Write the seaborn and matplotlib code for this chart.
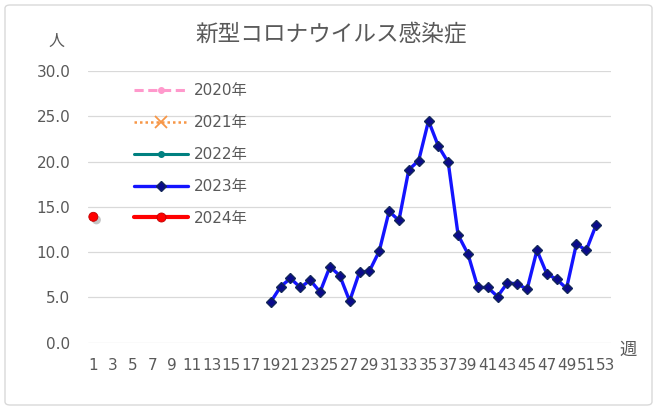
import matplotlib
matplotlib.use("Agg")
import matplotlib.pyplot as plt
import matplotlib.patheffects as pe
from matplotlib.patches import FancyBboxPatch
import seaborn as sns
import pandas as pd

# ---- data ----
title = "新型コロナウイルス感染症"
y_label = "人"
x_label = "週"
series_names = ["2020年", "2021年", "2022年", "2023年", "2024年"]

weeks_2023 = list(range(19, 53))
values_2023 = [4.5, 6.2, 7.1, 6.1, 6.9, 5.6, 8.4, 7.4, 4.6, 7.8,
               7.9, 10.1, 14.5, 13.5, 19.1, 20.1, 24.5, 21.7, 19.9, 11.9,
               9.8, 6.1, 6.1, 5.1, 6.6, 6.5, 5.9, 10.2, 7.6, 7.0,
               6.0, 10.9, 10.2, 13.0]
weeks_2024 = [1]
values_2024 = [13.9]
weeks_2020, values_2020 = [], []
weeks_2021, values_2021 = [], []
weeks_2022, values_2022 = [], []

x_ticks = list(range(1, 54, 2))
y_ticks = [0, 5, 10, 15, 20, 25, 30]

# ---- style ----
sns.set_theme(style="white")
plt.rcParams["font.family"] = ["DejaVu Sans", "Noto Sans CJK JP"]
TXT = "#595959"

W, H = 656, 408
fig = plt.figure(figsize=(W / 100, H / 100), dpi=100)
L, R, T, B = 88.4, 610.9, 71.0, 342.7
ax = fig.add_axes([L / W, 1 - B / H, (R - L) / W, (B - T) / H])

df23 = pd.DataFrame({"week": weeks_2023, "value": values_2023})
df24 = pd.DataFrame({"week": weeks_2024, "value": values_2024})

ax.plot(weeks_2020, values_2020, color="#FF99CC", lw=2.2, ls=(0, (3, 1.5)),
        marker="o", ms=4, label=series_names[0])
ax.plot(weeks_2021, values_2021, color="#F79646", lw=1.8, ls=(0, (1, 1.2)),
        marker="x", ms=8, mew=1.3, label=series_names[1])
ax.plot(weeks_2022, values_2022, color="#008080", lw=2.2,
        marker="o", ms=4, label=series_names[2])
sns.lineplot(data=df23, x="week", y="value", ax=ax, color="#1414FF", lw=2.4,
             marker="D", markersize=4.8, markerfacecolor="#0A0A8C",
             markeredgecolor="#14285A", markeredgewidth=1.0,
             label=series_names[3])
sns.lineplot(data=df24, x="week", y="value", ax=ax, color="#FF0000", lw=3.0,
             marker="o", markersize=6.5, markerfacecolor="#FF0000",
             markeredgecolor="#C00000", markeredgewidth=0.6,
             label=series_names[4],
             path_effects=[pe.SimplePatchShadow(offset=(2.2, -2.2),
                                                shadow_rgbFace="#808080",
                                                alpha=0.45),
                           pe.Normal()])

ax.set_xlim(0.5, 53.5)
ax.set_ylim(0, 30)
ax.set_xticks(x_ticks)
ax.set_xticklabels([str(t) for t in x_ticks])
ax.set_yticks(y_ticks)
ax.set_yticklabels([f"{t:.1f}" for t in y_ticks])
ax.set_xlabel("")
ax.set_ylabel("")
ax.grid(axis="y", color="#D9D9D9", lw=0.9)
ax.grid(axis="x", visible=False)
for s in ax.spines.values():
    s.set_visible(False)
ax.tick_params(axis="x", length=0, pad=11, labelsize=11, labelcolor=TXT)
ax.tick_params(axis="y", length=0, pad=13, labelsize=11, labelcolor=TXT)

leg = ax.legend(loc="upper left", bbox_to_anchor=(0.0873, 0.954),
                frameon=False, fontsize=11, handlelength=3.55,
                handletextpad=0.35, labelspacing=1.1, borderaxespad=0,
                borderpad=0)
for t in leg.get_texts():
    t.set_color(TXT)
for h in leg.legend_handles:
    h.set_path_effects([])

fig.text(331 / W, 1 - 35 / H, title, ha="center", va="center", fontsize=16.3,
         color=TXT, family=["Noto Sans CJK JP"])
fig.text(56.7 / W, 1 - 41 / H, y_label, ha="center", va="center", fontsize=11.5,
         color=TXT, family=["Noto Sans CJK JP"])
fig.text(628.5 / W, 1 - 349.5 / H, x_label, ha="center", va="center", fontsize=12.5,
         color=TXT, family=["Noto Sans CJK JP"])

border = FancyBboxPatch((5 / W, 3 / H), 647 / W, 400 / H,
                        boxstyle="round,pad=0,rounding_size=0.008",
                        transform=fig.transFigure, facecolor="none",
                        edgecolor="#D9D9D9", lw=1.0)
fig.patches.append(border)

fig.savefig("out.png", dpi=100)
